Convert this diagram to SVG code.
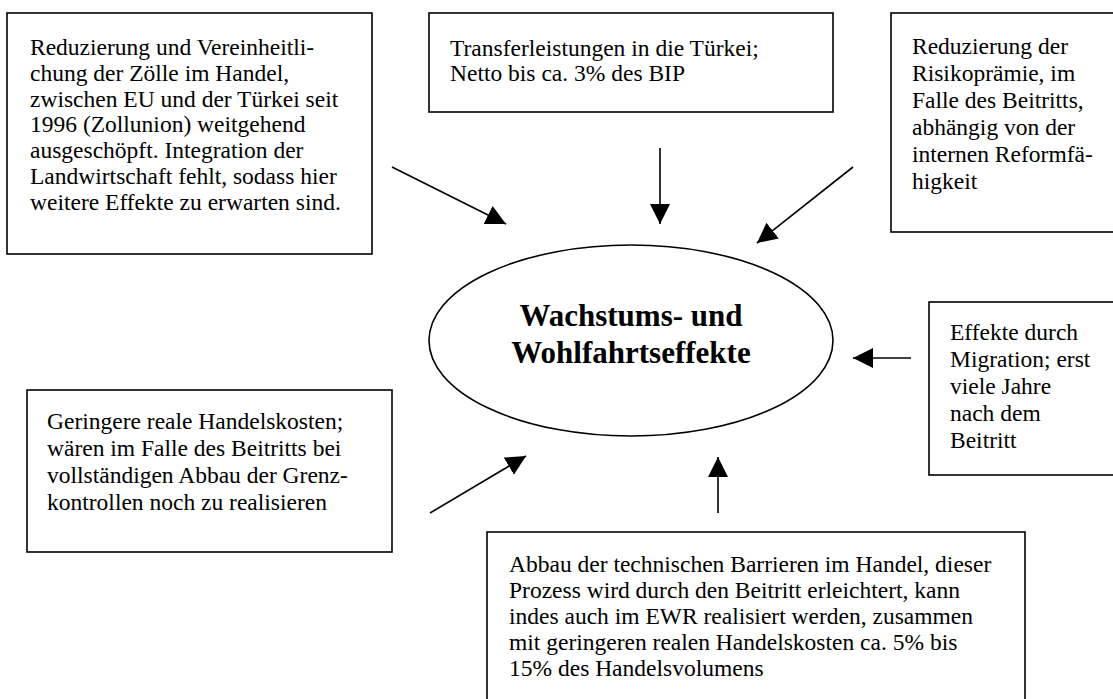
<svg xmlns="http://www.w3.org/2000/svg" width="1113" height="699" viewBox="0 0 1113 699">
<defs>
<style>
.box{fill:#fff;stroke:#000;stroke-width:1.6}
.t{font-family:"Liberation Serif","Times New Roman",serif;font-size:23.5px;fill:#000}
.h{font-family:"Liberation Serif","Times New Roman",serif;font-size:31px;font-weight:bold;fill:#000;text-anchor:middle}
.c{stroke:#000;stroke-width:1.6;fill:none;marker-end:url(#ah)}
</style>
<marker id="ah" markerUnits="userSpaceOnUse" markerWidth="22" markerHeight="22" refX="20" refY="10" orient="auto" viewBox="0 0 22 22">
<path d="M0,0 L20,10 L0,20 z" fill="#000"/>
</marker>
</defs>
<rect width="1113" height="699" fill="#fff"/>
<g id="n-zoelle">
<rect class="box" x="7" y="13" width="365" height="241"/>
<text class="t" x="30" y="55">Reduzierung und Vereinheitli-</text>
<text class="t" x="30" y="80.8">chung der Zölle im Handel,</text>
<text class="t" x="30" y="106.6">zwischen EU und der Türkei seit</text>
<text class="t" x="30" y="132.4">1996 (Zollunion) weitgehend</text>
<text class="t" x="30" y="158.2">ausgeschöpft. Integration der</text>
<text class="t" x="30" y="184">Landwirtschaft fehlt, sodass hier</text>
<text class="t" x="30" y="209.8">weitere Effekte zu erwarten sind.</text>
</g>
<g id="n-transfer">
<rect class="box" x="429" y="13" width="404" height="99"/>
<text class="t" x="450" y="56">Transferleistungen in die Türkei;</text>
<text class="t" x="450" y="81">Netto bis ca. 3% des BIP</text>
</g>
<g id="n-risiko">
<rect class="box" x="891" y="13" width="240" height="219"/>
<text class="t" x="912" y="54">Reduzierung der</text>
<text class="t" x="912" y="81">Risikoprämie, im</text>
<text class="t" x="912" y="108">Falle des Beitritts,</text>
<text class="t" x="912" y="135">abhängig von der</text>
<text class="t" x="912" y="162">internen Reformfä-</text>
<text class="t" x="912" y="189">higkeit</text>
</g>
<g id="n-center">
<ellipse cx="631" cy="340.5" rx="202" ry="95.5" fill="#fff" stroke="#000" stroke-width="1.6"/>
<text class="h" x="631" y="326">Wachstums- und</text>
<text class="h" x="631" y="363">Wohlfahrtseffekte</text>
</g>
<g id="n-migration">
<rect class="box" x="929" y="302" width="200" height="173"/>
<text class="t" x="950" y="340">Effekte durch</text>
<text class="t" x="950" y="367">Migration; erst</text>
<text class="t" x="950" y="394">viele Jahre</text>
<text class="t" x="950" y="421">nach dem</text>
<text class="t" x="950" y="448">Beitritt</text>
</g>
<g id="n-handelskosten">
<rect class="box" x="27" y="390" width="365" height="162"/>
<text class="t" x="47" y="429">Geringere reale Handelskosten;</text>
<text class="t" x="47" y="456">wären im Falle des Beitritts bei</text>
<text class="t" x="47" y="483">vollständigen Abbau der Grenz-</text>
<text class="t" x="47" y="510">kontrollen noch zu realisieren</text>
</g>
<g id="n-barrieren">
<rect class="box" x="487" y="532" width="538" height="200"/>
<text class="t" x="509" y="572">Abbau der technischen Barrieren im Handel, dieser</text>
<text class="t" x="509" y="598">Prozess wird durch den Beitritt erleichtert, kann</text>
<text class="t" x="509" y="624">indes auch im EWR realisiert werden, zusammen</text>
<text class="t" x="509" y="650">mit geringeren realen Handelskosten ca. 5% bis</text>
<text class="t" x="509" y="676">15% des Handelsvolumens</text>
</g>
<g id="connectors">
<line class="c" x1="392" y1="167" x2="506" y2="224"/>
<line class="c" x1="660" y1="148" x2="660" y2="224"/>
<line class="c" x1="853" y1="167" x2="757" y2="243"/>
<line class="c" x1="911" y1="358" x2="853" y2="358"/>
<line class="c" x1="430" y1="513" x2="526" y2="456"/>
<line class="c" x1="718" y1="513" x2="718" y2="457"/>
</g>
</svg>
